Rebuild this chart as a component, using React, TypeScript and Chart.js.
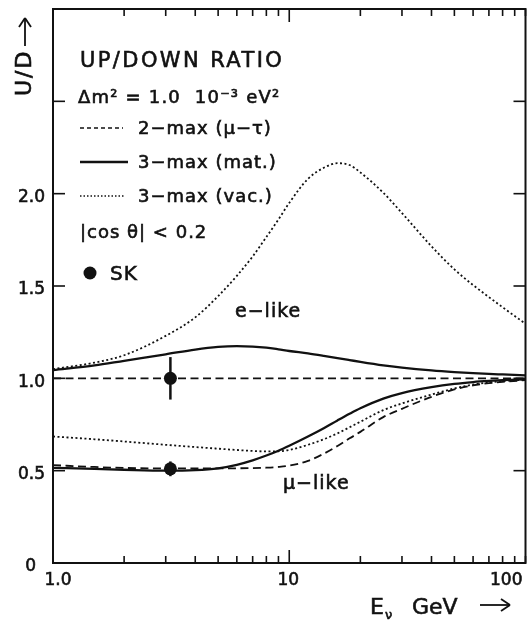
import React, { useEffect, useRef } from 'react';
import { Chart, registerables } from 'chart.js';

Chart.register(...registerables);

// Neutrino energy grid (GeV)
const energies = [1, 1.5, 2, 3, 4, 5, 6, 7, 8, 9, 10, 12, 14, 16, 18, 20, 25, 30, 40, 50, 60, 70, 80, 100];

// e-like curves
const eLike2Max = [1.0, 1.0, 1.0, 1.0, 1.0, 1.0, 1.0, 1.0, 1.0, 1.0, 1.0, 1.0, 1.0, 1.0, 1.0, 1.0, 1.0, 1.0, 1.0, 1.0, 1.0, 1.0, 1.0, 1.0];
const eLike3Mat = [1.045, 1.07, 1.095, 1.13, 1.156, 1.17, 1.174, 1.172, 1.166, 1.157, 1.148, 1.135, 1.122, 1.11, 1.099, 1.089, 1.07, 1.058, 1.043, 1.034, 1.028, 1.024, 1.021, 1.016];
const eLike3Vac = [1.05, 1.085, 1.125, 1.23, 1.33, 1.445, 1.555, 1.66, 1.765, 1.86, 1.95, 2.08, 2.14, 2.165, 2.155, 2.115, 2.005, 1.895, 1.715, 1.59, 1.505, 1.44, 1.385, 1.295];

// mu-like curves
const muLike2Max = [0.53, 0.52, 0.515, 0.512, 0.512, 0.512, 0.513, 0.514, 0.516, 0.52, 0.527, 0.553, 0.592, 0.634, 0.675, 0.71, 0.79, 0.835, 0.9, 0.94, 0.962, 0.974, 0.981, 0.99];
const muLike3Mat = [0.515, 0.51, 0.505, 0.5, 0.503, 0.513, 0.532, 0.556, 0.582, 0.608, 0.635, 0.685, 0.73, 0.772, 0.808, 0.838, 0.89, 0.92, 0.952, 0.97, 0.98, 0.986, 0.99, 0.995];
const muLike3Vac = [0.685, 0.67, 0.658, 0.64, 0.628, 0.619, 0.612, 0.607, 0.604, 0.605, 0.612, 0.64, 0.67, 0.702, 0.735, 0.765, 0.828, 0.864, 0.912, 0.945, 0.966, 0.978, 0.985, 0.993];

// Super-Kamiokande points
const skEnergy = [3.14, 3.14];
const skRatio = [1.0, 0.51];
const skError = [0.115, 0.04];

// Axis ticks
const xTickValues = [1, 2, 3, 4, 5, 6, 7, 8, 9, 10, 20, 30, 40, 50, 60, 70, 80, 90, 100];
const xLabelValues = [1, 10, 100];
const xLabelTexts = ['1.0', '10', '100'];
const yTickValues = [0, 0.5, 1.0, 1.5, 2.0, 2.5, 3.0];
const yLabelValues = [0, 0.5, 1.0, 1.5, 2.0];
const yLabelTexts = ['0', '0.5', '1.0', '1.5', '2.0'];

const FONT = '"DejaVu Sans", sans-serif';
const INK = '#111';

const DASH = [8, 4.5];
const DOT = [2, 2.5];

export default function App() {
  const ref = useRef<HTMLCanvasElement>(null);

  useEffect(() => {
    document.body.style.margin = '0';
    const canvas = ref.current;
    if (!canvas) return;

    const toXY = (ys: number[]) => energies.map((e, i) => ({ x: e, y: ys[i] }));

    const text = (
      ctx: CanvasRenderingContext2D,
      s: string,
      x: number,
      y: number,
      size: number,
      ls = 0,
      align: CanvasTextAlign = 'left',
      base: CanvasTextBaseline = 'alphabetic'
    ) => {
      ctx.save();
      ctx.font = `${size}px ${FONT}`;
      (ctx as any).letterSpacing = `${ls}px`;
      ctx.textAlign = align;
      ctx.textBaseline = base;
      ctx.fillStyle = INK;
      ctx.strokeStyle = INK;
      ctx.lineWidth = 0.6;
      ctx.setLineDash([]);
      ctx.fillText(s, x, y);
      ctx.strokeText(s, x, y);
      ctx.restore();
    };

    const seg = (ctx: CanvasRenderingContext2D, x1: number, y1: number, x2: number, y2: number) => {
      ctx.beginPath();
      ctx.moveTo(x1, y1);
      ctx.lineTo(x2, y2);
      ctx.stroke();
    };

    const decor = {
      id: 'decor',
      afterDatasetsDraw(chart: any) {
        const { ctx, scales } = chart;
        const xs = scales.x;
        const ys = scales.y;
        ctx.save();
        ctx.strokeStyle = INK;
        ctx.lineWidth = 2.5;
        ctx.setLineDash([]);
        skEnergy.forEach((e, i) => {
          const px = xs.getPixelForValue(e);
          seg(ctx, px, ys.getPixelForValue(skRatio[i] - skError[i]), px, ys.getPixelForValue(skRatio[i] + skError[i]));
        });
        ctx.restore();
      },
      afterDraw(chart: any) {
        const { ctx, chartArea, scales } = chart;
        const { left, right, top, bottom } = chartArea;
        const xs = scales.x;
        const ys = scales.y;
        ctx.save();
        ctx.strokeStyle = INK;
        ctx.setLineDash([]);

        // frame
        ctx.lineWidth = 2;
        ctx.strokeRect(left, top, right - left, bottom - top);

        // ticks (inward)
        ctx.lineWidth = 1.6;
        xTickValues.forEach((v) => {
          const px = xs.getPixelForValue(v);
          const len = v === 10 ? 13 : 7;
          seg(ctx, px, bottom, px, bottom - len);
          seg(ctx, px, top, px, top + len);
        });
        yTickValues.forEach((v) => {
          const py = ys.getPixelForValue(v);
          seg(ctx, left, py, left + 12, py);
          seg(ctx, right, py, right - 12, py);
        });

        // tick labels
        xLabelValues.forEach((v, i) => {
          const px = xs.getPixelForValue(v);
          if (i === 0) text(ctx, xLabelTexts[i], px + 5, bottom + 18, 17, 0, 'center', 'middle');
          else if (i === xLabelValues.length - 1) text(ctx, xLabelTexts[i], px - 3, bottom + 18, 17, 0, 'right', 'middle');
          else text(ctx, xLabelTexts[i], px - 1, bottom + 18, 17, 0, 'center', 'middle');
        });
        yLabelValues.forEach((v, i) => {
          const py = ys.getPixelForValue(v);
          const xr = v === 0 ? left - 17 : left - 8;
          text(ctx, yLabelTexts[i], xr, py + 4, 17, 0, 'right', 'middle');
        });

        // y axis title (rotated) with arrow
        ctx.save();
        ctx.translate(25, 96);
        ctx.rotate(-Math.PI / 2);
        text(ctx, 'U/D', 0, 0, 22, 2, 'left', 'middle');
        ctx.restore();
        ctx.lineWidth = 1.8;
        seg(ctx, 25, 46, 25, 19);
        seg(ctx, 25, 18, 19, 27);
        seg(ctx, 25, 18, 31, 27);

        // x axis title with arrow
        text(ctx, 'E', 370, 614, 22, 0, 'left', 'alphabetic');
        text(ctx, 'ν', 385, 619, 13, 0, 'left', 'alphabetic');
        text(ctx, 'GeV', 412, 614, 22, 0, 'left', 'alphabetic');
        ctx.lineWidth = 1.8;
        seg(ctx, 480, 605, 509, 605);
        seg(ctx, 510, 605, 501, 599);
        seg(ctx, 510, 605, 501, 611);

        // in-plot annotations
        text(ctx, 'UP/DOWN RATIO', 80, 67, 21, 2.4);
        text(ctx, 'Δm² = 1.0  10⁻³ eV²', 78, 103, 18, 1.2);

        const rows = [134, 168, 202];
        const rowTexts = ['2−max (μ−τ)', '3−max (mat.)', '3−max (vac.)'];
        const sampleDash = [[4, 3], [], [1.5, 2]];
        const sampleWidth = [1.6, 2.4, 1.4];
        const sampleEnd = [123, 128, 125];
        rows.forEach((by, i) => {
          ctx.save();
          ctx.lineWidth = sampleWidth[i];
          ctx.setLineDash(sampleDash[i]);
          seg(ctx, 80, by - 6, sampleEnd[i], by - 6);
          ctx.restore();
          text(ctx, rowTexts[i], 138, by, 18, 1);
        });

        text(ctx, '|cos θ| < 0.2', 80, 238, 18, 1);

        ctx.beginPath();
        ctx.fillStyle = INK;
        ctx.arc(90, 273, 6.5, 0, Math.PI * 2);
        ctx.fill();
        text(ctx, 'SK', 110, 280, 20, 1);

        text(ctx, 'e−like', 235, 317, 19, 1);
        text(ctx, 'μ−like', 283, 489, 19, 1);

        ctx.restore();
      },
    };

    const lineDs = (label: string, ys: number[], dash: number[], width: number) => ({
      type: 'line' as const,
      label,
      data: toXY(ys),
      borderColor: INK,
      borderWidth: width,
      borderDash: dash,
      pointRadius: 0,
      fill: false,
      cubicInterpolationMode: 'monotone' as const,
    });

    const chart = new Chart(canvas, {
      type: 'line',
      data: {
        datasets: [
          lineDs('e-like 2-max (μ−τ)', eLike2Max, DASH, 1.8),
          lineDs('e-like 3-max (mat.)', eLike3Mat, [], 2.3),
          lineDs('e-like 3-max (vac.)', eLike3Vac, DOT, 1.8),
          lineDs('μ-like 2-max (μ−τ)', muLike2Max, DASH, 1.8),
          lineDs('μ-like 3-max (mat.)', muLike3Mat, [], 2.3),
          lineDs('μ-like 3-max (vac.)', muLike3Vac, DOT, 1.8),
          {
            type: 'scatter' as const,
            label: 'SK',
            data: skEnergy.map((e, i) => ({ x: e, y: skRatio[i] })),
            showLine: false,
            pointRadius: 6.5,
            pointStyle: 'circle',
            backgroundColor: INK,
            borderColor: INK,
            borderWidth: 0,
          } as any,
        ],
      },
      options: {
        responsive: false,
        animation: false,
        events: [],
        layout: { padding: { left: 0, top: 9, right: 6, bottom: 0 } },
        plugins: {
          legend: { display: false },
          tooltip: { enabled: false },
          title: { display: false },
        },
        scales: {
          x: {
            type: 'logarithmic',
            min: 1,
            max: 100,
            grid: { display: false },
            border: { display: false },
            ticks: { display: false },
            afterFit: (s: any) => {
              s.height = 58;
            },
          },
          y: {
            type: 'linear',
            min: 0,
            max: 3,
            grid: { display: false },
            border: { display: false },
            ticks: { display: false },
            afterFit: (s: any) => {
              s.width = 53;
            },
          },
        },
      } as any,
      plugins: [decor],
    });

    return () => chart.destroy();
  }, []);

  return (
    <div style={{ position: 'absolute', left: 0, top: 0, width: 532, height: 621, background: '#fff' }}>
      <canvas ref={ref} width={532} height={621} style={{ display: 'block', width: 532, height: 621 }} />
    </div>
  );
}
